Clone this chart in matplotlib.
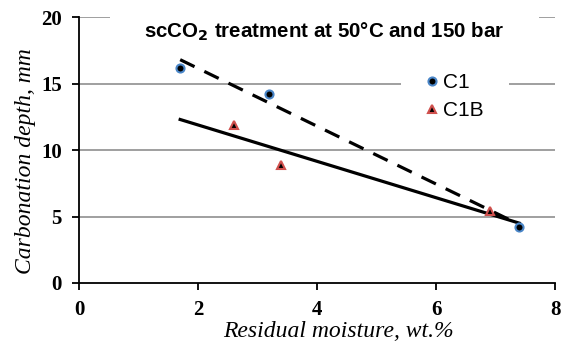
import matplotlib

matplotlib.use("Agg")
import matplotlib.pyplot as plt
from matplotlib.patches import Rectangle

# data
c1_x = [1.7, 3.2, 7.4]
c1_y = [16.2, 14.2, 4.2]
c1b_x = [2.6, 3.4, 6.9]
c1b_y = [11.9, 8.9, 5.4]

# trend lines (end points)
fit_c1_x = [1.7, 7.4]
fit_c1_y = [16.8, 4.4]
fit_all_x = [1.7, 7.4]
fit_all_y = [12.3, 4.5]

xticks = [0, 2, 4, 6, 8]
yticks = [0, 5, 10, 15, 20]

fig = plt.figure(figsize=(5.62, 3.43), dpi=100)
ax = fig.add_axes([0.1406, 0.175, 0.847, 0.775])

for y in yticks[1:]:
    ax.axhline(y, color="#979797", linewidth=1.3, zorder=1)

# white boxes behind title and legend break the gridlines like in the original
ax.add_patch(Rectangle((0.065, 0.87), 0.901, 0.16, transform=ax.transAxes,
                       facecolor="white", edgecolor="none", zorder=2, clip_on=False))
ax.add_patch(Rectangle((0.676, 0.60), 0.227, 0.19, transform=ax.transAxes,
                       facecolor="white", edgecolor="none", zorder=2))

ax.plot(fit_c1_x, fit_c1_y, color="black", linewidth=2.3, linestyle=(0, (5, 3.4)),
        zorder=3)
ax.plot(fit_all_x, fit_all_y, color="black", linewidth=2.3, zorder=3)

ax.plot(c1_x, c1_y, linestyle="none", marker="o", markersize=5.8,
        markerfacecolor="black", markeredgecolor="#4a86c8", markeredgewidth=1.5,
        label="C1", zorder=4)
ax.plot(c1b_x, c1b_y, linestyle="none", marker="^", markersize=5.8,
        markerfacecolor="black", markeredgecolor="#d0504d", markeredgewidth=1.5,
        label="C1B", zorder=4)

ax.set_xlim(0, 8)
ax.set_ylim(0, 20)
ax.set_xticks(xticks)
ax.set_yticks(yticks)
for lab in ax.get_xticklabels() + ax.get_yticklabels():
    lab.set_family("Liberation Serif")
    lab.set_fontweight("bold")
    lab.set_fontsize(15)
ax.tick_params(axis="both", direction="out", length=5, width=1.3, colors="black")
ax.tick_params(axis="x", pad=7)
ax.tick_params(axis="y", pad=7.5)

for side in ("top", "right"):
    ax.spines[side].set_visible(False)
for side in ("left", "bottom"):
    ax.spines[side].set_linewidth(1.3)

ax.set_xlabel("Residual moisture, wt.%", family="Liberation Serif", style="italic",
              fontsize=17)
ax.set_ylabel("Carbonation depth, mm", family="Liberation Serif", style="italic",
              fontsize=17)
ax.xaxis.set_label_coords(0.544, -0.182)
ax.yaxis.set_label_coords(-0.113, 0.459)
ax.xaxis.label.set_va("center")
ax.yaxis.label.set_va("center")

ax.text(0.515, 0.947, r"scCO$_\mathbf{2}$ treatment at 50°C and 150 bar",
        transform=ax.transAxes, ha="center", va="center", family="Liberation Sans",
        fontweight="bold", fontsize=14.8, zorder=5)

leg = ax.legend(loc="upper left", bbox_to_anchor=(0.725, 0.79), frameon=False,
                prop={"family": "Liberation Sans", "size": 15}, handletextpad=0.1,
                handlelength=0.8, labelspacing=0.45, borderaxespad=0, borderpad=0)
leg.set_zorder(5)

fig.savefig("out.png", dpi=100)
